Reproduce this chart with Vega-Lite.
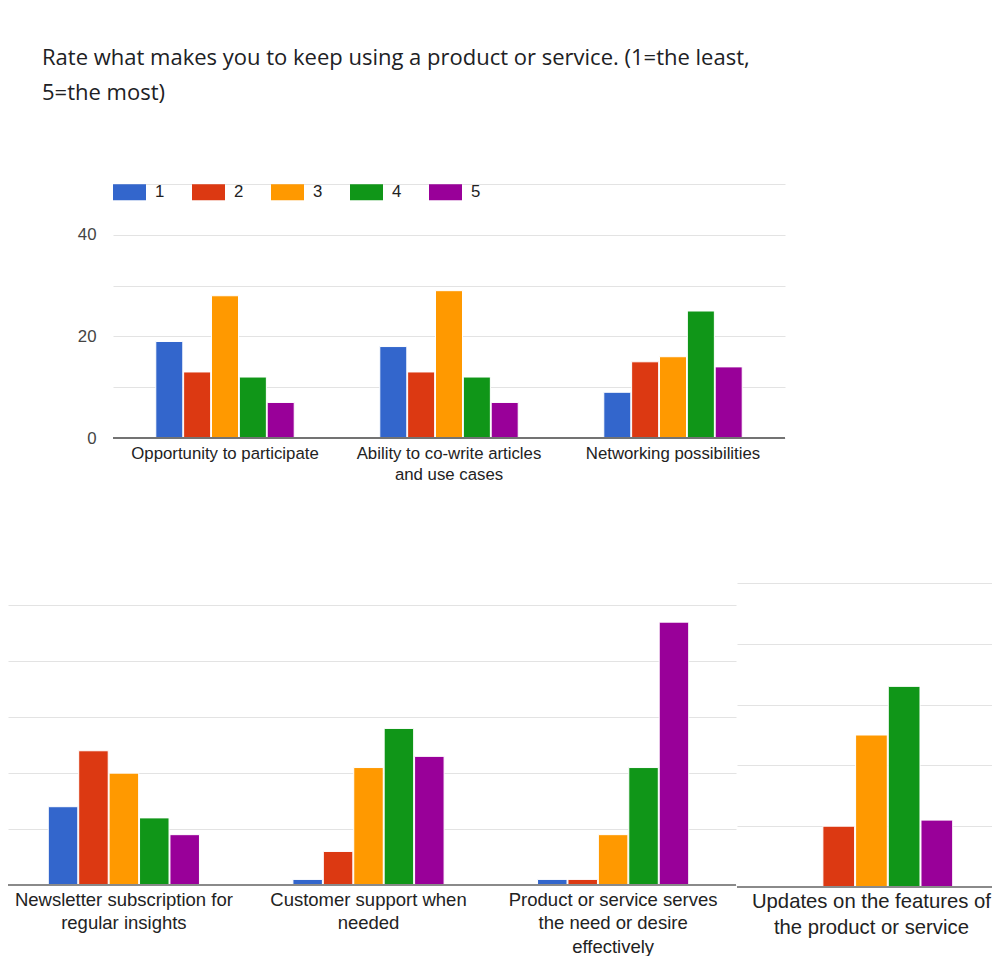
{
  "$schema": "https://vega.github.io/schema/vega-lite/v6.json",
  "background": "#ffffff",
  "padding": {"left": 7, "top": 46, "right": 0, "bottom": 0},
  "config": {
    "view": {"stroke": null},
    "font": "Liberation Sans",
    "axis": {"labelFont": "Liberation Sans", "gridColor": "#e3e3e3", "gridWidth": 1}
  },
  "datasets": {
    "firstQuestions": [
      {"category": "Opportunity to participate", "rating": 1, "count": 19},
      {"category": "Opportunity to participate", "rating": 2, "count": 13},
      {"category": "Opportunity to participate", "rating": 3, "count": 28},
      {"category": "Opportunity to participate", "rating": 4, "count": 12},
      {"category": "Opportunity to participate", "rating": 5, "count": 7},
      {"category": "Ability to co-write articles and use cases", "rating": 1, "count": 18},
      {"category": "Ability to co-write articles and use cases", "rating": 2, "count": 13},
      {"category": "Ability to co-write articles and use cases", "rating": 3, "count": 29},
      {"category": "Ability to co-write articles and use cases", "rating": 4, "count": 12},
      {"category": "Ability to co-write articles and use cases", "rating": 5, "count": 7},
      {"category": "Networking possibilities", "rating": 1, "count": 9},
      {"category": "Networking possibilities", "rating": 2, "count": 15},
      {"category": "Networking possibilities", "rating": 3, "count": 16},
      {"category": "Networking possibilities", "rating": 4, "count": 25},
      {"category": "Networking possibilities", "rating": 5, "count": 14}
    ],
    "middleQuestions": [
      {"category": "Newsletter subscription for regular insights", "rating": 1, "count": 14},
      {"category": "Newsletter subscription for regular insights", "rating": 2, "count": 24},
      {"category": "Newsletter subscription for regular insights", "rating": 3, "count": 20},
      {"category": "Newsletter subscription for regular insights", "rating": 4, "count": 12},
      {"category": "Newsletter subscription for regular insights", "rating": 5, "count": 9},
      {"category": "Customer support when needed", "rating": 1, "count": 1},
      {"category": "Customer support when needed", "rating": 2, "count": 6},
      {"category": "Customer support when needed", "rating": 3, "count": 21},
      {"category": "Customer support when needed", "rating": 4, "count": 28},
      {"category": "Customer support when needed", "rating": 5, "count": 23},
      {"category": "Product or service serves the need or desire effectively", "rating": 1, "count": 1},
      {"category": "Product or service serves the need or desire effectively", "rating": 2, "count": 1},
      {"category": "Product or service serves the need or desire effectively", "rating": 3, "count": 9},
      {"category": "Product or service serves the need or desire effectively", "rating": 4, "count": 21},
      {"category": "Product or service serves the need or desire effectively", "rating": 5, "count": 47}
    ],
    "lastQuestion": [
      {"category": "Updates on the features of the product or service", "rating": 1, "count": 0},
      {"category": "Updates on the features of the product or service", "rating": 2, "count": 10},
      {"category": "Updates on the features of the product or service", "rating": 3, "count": 25},
      {"category": "Updates on the features of the product or service", "rating": 4, "count": 33},
      {"category": "Updates on the features of the product or service", "rating": 5, "count": 11}
    ]
  },
  "spacing": 99,
  "resolve": {
    "scale": {"color": "independent", "x": "independent", "y": "independent", "xOffset": "independent"},
    "legend": {"color": "independent"}
  },
  "vconcat": [
    {
      "spacing": 0,
      "resolve": {
        "scale": {"color": "independent", "x": "independent", "y": "independent", "xOffset": "independent"},
        "legend": {"color": "independent"}
      },
      "hconcat": [
        {
          "description": "empty leading cell so the first panel's y axis sits inside the left margin",
          "data": {"values": []},
          "width": 0,
          "height": 0,
          "mark": "point"
        },
        {
          "data": {"name": "firstQuestions"},
          "width": 672,
          "height": 254,
          "title": {
            "text": ["Rate what makes you to keep using a product or service. (1=the least,", "5=the most)"],
            "anchor": "start",
            "frame": "group",
            "dx": -71,
            "offset": 49,
            "baseline": "bottom",
            "font": "Open Sans",
            "fontSize": 22,
            "fontWeight": "normal",
            "lineHeight": 35,
            "color": "#202124"
          },
          "layer": [
            {
              "mark": {"type": "bar", "stroke": "#ffffff", "strokeWidth": 1},
              "encoding": {
                "x": {
                  "field": "category", "type": "nominal", "sort": null,
                  "scale": {"paddingInner": 0.382, "paddingOuter": 0.191},
                  "axis": {
                    "title": null, "domain": false, "ticks": false, "labelAngle": 0,
                    "labelFontSize": 16.8, "labelColor": "#222222", "labelPadding": 7,
                    "labelLineHeight": 21.6, "labelLimit": 0, "labelOverlap": false,
                    "labelExpr": "datum.label == 'Ability to co-write articles and use cases' ? ['Ability to co-write articles', 'and use cases'] : datum.label"
                  }
                },
                "xOffset": {"field": "rating", "type": "nominal", "scale": {"paddingInner": 0.03}},
                "y": {
                  "field": "count", "type": "quantitative",
                  "scale": {"domain": [0, 50], "nice": false},
                  "axis": {
                    "title": null, "domain": false, "ticks": false,
                    "values": [0, 10, 20, 30, 40, 50],
                    "labelExpr": "datum.value % 20 == 0 && datum.value < 50 ? datum.label : ''",
                    "labelFontSize": 16.8, "labelColor": "#444444", "labelPadding": 17,
                    "minExtent": 85, "maxExtent": 85
                  }
                },
                "color": {
                  "field": "rating", "type": "nominal",
                  "scale": {"domain": [1, 2, 3, 4, 5], "range": ["#3366cc", "#dc3912", "#ff9900", "#109618", "#990099"]},
                  "legend": {
                    "orient": "none", "legendX": 0, "legendY": -8.5, "direction": "horizontal",
                    "title": null, "padding": 0,
                    "symbolType": "M-1,-0.485H1V0.485H-1Z", "symbolSize": 1089, "symbolStrokeWidth": 0,
                    "labelFontSize": 16.8, "labelColor": "#222222", "labelOffset": 9, "columnPadding": 27
                  }
                }
              }
            },
            {
              "mark": {"type": "rule", "color": "#737373", "strokeWidth": 2},
              "encoding": {"y": {"datum": 0}}
            }
          ]
        }
      ]
    },
    {
      "spacing": -1,
      "resolve": {
        "scale": {"color": "independent", "x": "independent", "y": "independent", "xOffset": "independent"},
        "legend": {"color": "independent"}
      },
      "hconcat": [
        {
          "data": {"name": "middleQuestions"},
          "width": 728,
          "height": 302,
          "layer": [
            {
              "mark": {"type": "bar", "stroke": "#ffffff", "strokeWidth": 1},
              "encoding": {
                "x": {
                  "field": "category", "type": "nominal", "sort": null,
                  "scale": {"paddingInner": 0.382, "paddingOuter": 0.179, "align": 0.46},
                  "axis": {
                    "title": null, "domain": false, "ticks": false, "labelAngle": 0,
                    "labelFontSize": 18.5, "labelColor": "#222222", "labelPadding": 5,
                    "labelLineHeight": 23.5, "labelLimit": 0, "labelOverlap": false,
                    "labelExpr": "datum.label == 'Newsletter subscription for regular insights' ? ['Newsletter subscription for', 'regular insights'] : datum.label == 'Customer support when needed' ? ['Customer support when', 'needed'] : datum.label == 'Product or service serves the need or desire effectively' ? ['Product or service serves', 'the need or desire', 'effectively'] : datum.label"
                  }
                },
                "xOffset": {"field": "rating", "type": "nominal", "scale": {"paddingInner": 0.03}},
                "y": {
                  "field": "count", "type": "quantitative",
                  "scale": {"domain": [0, 54], "nice": false},
                  "axis": {
                    "title": null, "domain": false, "ticks": false, "labels": false,
                    "values": [0, 10, 20, 30, 40, 50], "minExtent": 0, "maxExtent": 0
                  }
                },
                "color": {
                  "field": "rating", "type": "nominal",
                  "scale": {"domain": [1, 2, 3, 4, 5], "range": ["#3366cc", "#dc3912", "#ff9900", "#109618", "#990099"]},
                  "legend": null
                }
              }
            },
            {
              "mark": {"type": "rule", "color": "#8a8a8a", "strokeWidth": 2},
              "encoding": {"y": {"datum": 0}}
            }
          ]
        },
        {
          "data": {"name": "lastQuestion"},
          "width": 255,
          "height": 304,
          "layer": [
            {
              "mark": {"type": "bar", "stroke": "#ffffff", "strokeWidth": 1},
              "encoding": {
                "x": {
                  "field": "category", "type": "nominal", "sort": null,
                  "scale": {"paddingInner": 0, "paddingOuter": 0.2846, "align": 0.575},
                  "axis": {
                    "title": null, "domain": false, "ticks": false, "labelAngle": 0,
                    "labelFontSize": 20.3, "labelColor": "#222222", "labelPadding": 4,
                    "labelLineHeight": 26.7, "labelLimit": 0, "labelOverlap": false,
                    "labelExpr": "datum.label == 'Updates on the features of the product or service' ? ['Updates on the features of', 'the product or service'] : datum.label"
                  }
                },
                "xOffset": {"field": "rating", "type": "nominal", "scale": {"paddingInner": 0.03}},
                "y": {
                  "field": "count", "type": "quantitative",
                  "scale": {"domain": [0, 50], "nice": false},
                  "axis": {
                    "title": null, "domain": false, "ticks": false, "labels": false,
                    "values": [0, 10, 20, 30, 40, 50], "minExtent": 0, "maxExtent": 0
                  }
                },
                "color": {
                  "field": "rating", "type": "nominal",
                  "scale": {"domain": [1, 2, 3, 4, 5], "range": ["#3366cc", "#dc3912", "#ff9900", "#109618", "#990099"]},
                  "legend": null
                }
              }
            },
            {
              "mark": {"type": "rule", "color": "#8a8a8a", "strokeWidth": 2},
              "encoding": {"y": {"datum": 0}}
            }
          ]
        }
      ]
    }
  ]
}
